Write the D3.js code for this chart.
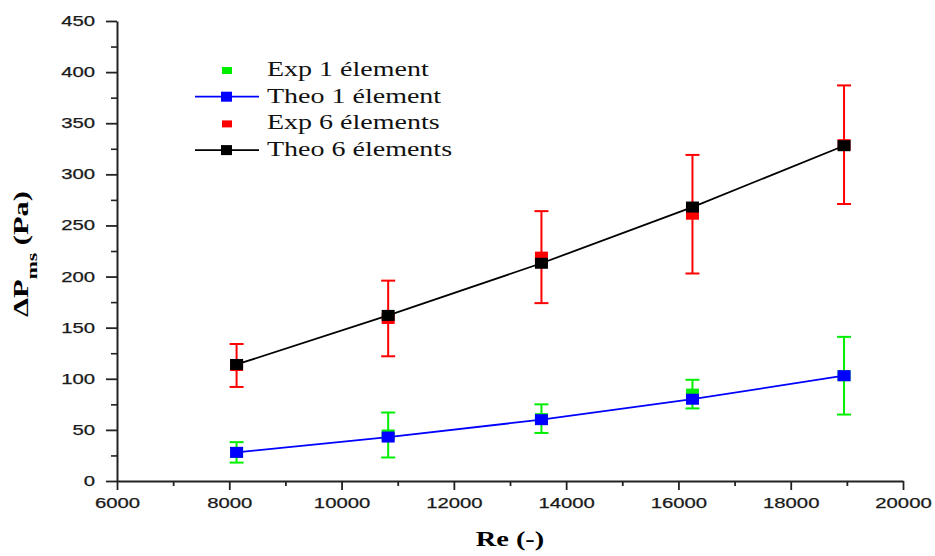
<!DOCTYPE html>
<html>
<head>
<meta charset="utf-8">
<script src="https://cdn.jsdelivr.net/npm/d3@7"></script>
<style>
  body { margin: 0; background: #fff; }
  .tick text { font-family: "Liberation Sans", Arial, sans-serif; font-size: 14px; fill: #1a1a1a; stroke: #1a1a1a; stroke-width: 0.25px; }
  .legend text { font-family: "Liberation Serif", "Times New Roman", serif; font-size: 20px; fill: #111; }
</style>
</head>
<body>
<svg id="chart"></svg>
<script>
const width = 935;
const height = 556;

const re = [8130, 10830, 13560, 16250, 18950];
const exp1 = [28, 45, 61, 85, 103];
const exp1Err = [10, 22, 14, 14, 38];
const theo1 = [28, 43, 60, 80, 103];
const exp6 = [113, 159, 219, 261, 329];
const exp6Err = [21, 37, 45, 58, 58];
const theo6 = [114, 162, 213, 268, 328];

const xTicks = [6000, 8000, 10000, 12000, 14000, 16000, 18000, 20000];
const yTicks = [0, 50, 100, 150, 200, 250, 300, 350, 400, 450];
const legendLabels = ['Exp 1 élement', 'Theo 1 élement', 'Exp 6 élements', 'Theo 6 élements'];

const margin = {left: 117, right: 32, top: 21, bottom: 75};

// the text in the picture is drawn wide, stretch it along its own direction
const stretchK = 1.45;
const stretch = (sel, k) => sel.each(function () {
  const w = this.getComputedTextLength();
  d3.select(this).attr('textLength', w * k).attr('lengthAdjust', 'spacingAndGlyphs');
});

const x = d3.scaleLinear()
  .domain([6000, 20000])
  .range([margin.left, width - margin.right]);

const y = d3.scaleLinear()
  .domain([0, 450])
  .range([height - margin.bottom, margin.top]);

const svg = d3.select('#chart')
  .attr('width', width)
  .attr('height', height);

// minor ticks halfway between major ones
const mid = ticks => ticks.slice(1).map((t, i) => (t + ticks[i]) / 2);

svg.append('g')
  .attr('transform', `translate(0,${y(0)})`)
  .call(d3.axisBottom(x).tickValues(mid(xTicks)).tickSize(5).tickFormat(''))
  .call(g => g.select('.domain').remove())
  .selectAll('line').attr('stroke', '#222').attr('stroke-width', 1.8);

svg.append('g')
  .attr('transform', `translate(${x(6000)},0)`)
  .call(d3.axisLeft(y).tickValues(mid(yTicks)).tickSize(6).tickFormat(''))
  .call(g => g.select('.domain').remove())
  .selectAll('line').attr('stroke', '#222').attr('stroke-width', 1.6);

const xAxis = svg.append('g')
  .attr('transform', `translate(0,${y(0)})`)
  .call(d3.axisBottom(x).tickValues(xTicks).tickSize(9).tickSizeOuter(0).tickPadding(8).tickFormat(d3.format('d')));

const yAxis = svg.append('g')
  .attr('transform', `translate(${x(6000)},0)`)
  .call(d3.axisLeft(y).tickValues(yTicks).tickSize(11).tickSizeOuter(0).tickPadding(11));

[xAxis, yAxis].forEach(g => {
  g.select('.domain').attr('stroke', '#222').attr('stroke-width', 2);
  g.selectAll('.tick line').attr('stroke', '#222').attr('stroke-width', 1.8);
  stretch(g.selectAll('.tick text'), stretchK);
});

// axis titles
svg.append('text')
  .attr('x', x(13000))
  .attr('y', 546)
  .attr('text-anchor', 'middle')
  .style('font-family', '"Liberation Serif", "Times New Roman", serif')
  .style('font-weight', 'bold')
  .style('font-size', '20px')
  .text('Re (-)')
  .call(stretch, 1.42);

const yTitle = svg.append('text')
  .attr('transform', `translate(28,${y(222)}) rotate(-90) scale(${stretchK},1)`)
  .attr('text-anchor', 'middle')
  .style('font-family', '"Liberation Serif", "Times New Roman", serif')
  .style('font-weight', 'bold')
  .style('font-size', '21px');
yTitle.append('tspan').text('ΔP');
yTitle.append('tspan').attr('dy', 9).style('font-size', '15px').text('ms');
yTitle.append('tspan').attr('dy', -9).text(' (Pa)');

const series = [
  {exp: exp1, err: exp1Err, theo: theo1, expColor: '#00ee00', theoColor: '#0000ff'},
  {exp: exp6, err: exp6Err, theo: theo6, expColor: '#ff0000', theoColor: '#000000'}
];

const boxW = 13;
const boxH = 11;
const cap = 7;

series.forEach(s => {
  const g = svg.append('g');
  const pts = re.map((r, i) => ({r, v: s.exp[i], e: s.err[i], t: s.theo[i]}));

  const bars = g.selectAll('.err').data(pts).enter().append('g')
    .attr('stroke', s.expColor).attr('stroke-width', 2);
  bars.append('line')
    .attr('x1', d => x(d.r)).attr('x2', d => x(d.r))
    .attr('y1', d => y(d.v - d.e)).attr('y2', d => y(d.v + d.e));
  bars.append('line')
    .attr('x1', d => x(d.r) - cap).attr('x2', d => x(d.r) + cap)
    .attr('y1', d => y(d.v + d.e)).attr('y2', d => y(d.v + d.e));
  bars.append('line')
    .attr('x1', d => x(d.r) - cap).attr('x2', d => x(d.r) + cap)
    .attr('y1', d => y(d.v - d.e)).attr('y2', d => y(d.v - d.e));

  g.selectAll('.exp').data(pts).enter().append('rect')
    .attr('x', d => x(d.r) - boxW / 2).attr('y', d => y(d.v) - boxH / 2)
    .attr('width', boxW).attr('height', boxH)
    .attr('fill', s.expColor);

  g.append('path')
    .datum(pts)
    .attr('fill', 'none')
    .attr('stroke', s.theoColor)
    .attr('stroke-width', 1.8)
    .attr('d', d3.line().x(d => x(d.r)).y(d => y(d.t)));

  g.selectAll('.theo').data(pts).enter().append('rect')
    .attr('x', d => x(d.r) - boxW / 2).attr('y', d => y(d.t) - boxH / 2)
    .attr('width', boxW).attr('height', boxH)
    .attr('fill', s.theoColor);
});

// legend
const legendItems = [
  {label: legendLabels[0], color: '#00ee00', line: false},
  {label: legendLabels[1], color: '#0000ff', line: true},
  {label: legendLabels[2], color: '#ff0000', line: false},
  {label: legendLabels[3], color: '#000000', line: true}
];

const legend = svg.append('g').attr('class', 'legend');
const row = legend.selectAll('g').data(legendItems).enter().append('g')
  .attr('transform', (d, i) => `translate(0,${70 + i * 26.7})`);

row.filter(d => d.line).append('line')
  .attr('x1', 195).attr('x2', 259)
  .attr('stroke', d => d.color).attr('stroke-width', 1.8);
row.append('rect')
  .attr('x', d => d.line ? 221 : 222).attr('y', d => d.line ? -5 : -3)
  .attr('width', d => d.line ? 11 : 10).attr('height', d => d.line ? 10 : 7)
  .attr('fill', d => d.color);
row.append('text')
  .attr('x', 267).attr('y', 6)
  .text(d => d.label)
  .call(stretch, 1.4);
</script>
</body>
</html>
